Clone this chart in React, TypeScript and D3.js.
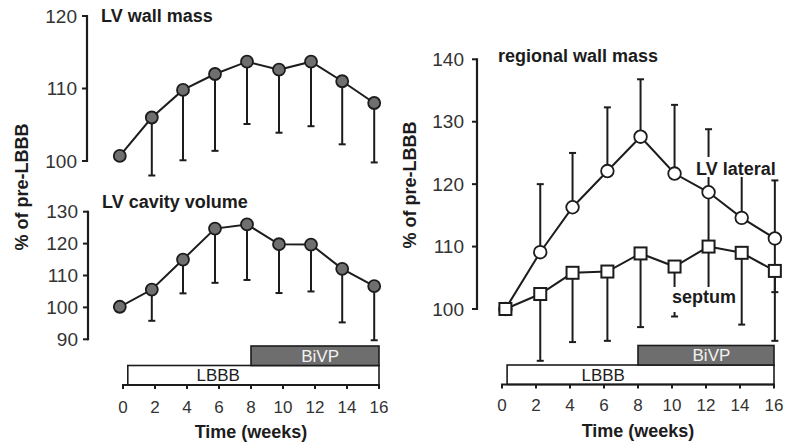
import React from "react";
import * as d3 from "d3";

// ---- data ----
const weekTicks = [0, 2, 4, 6, 8, 10, 12, 14, 16];
const leftWeeks = [-0.2, 1.8, 3.75, 5.75, 7.75, 9.75, 11.75, 13.7, 15.7];
const rightWeeks = [0.2, 2.25, 4.15, 6.2, 8.15, 10.15, 12.15, 14.1, 16.05];

const wallMass = [100.7, 106.0, 109.8, 112.0, 113.7, 112.6, 113.7, 111.0, 108.0];
const wallMassLow = [null, 98.0, 100.1, 101.4, 105.1, 103.9, 104.8, 102.3, 99.8];
const wallMassTicks = [100, 110, 120];

const cavity = [100.2, 105.6, 115.0, 124.7, 126.0, 119.8, 119.7, 112.1, 106.7];
const cavityLow = [null, 95.8, 104.4, 107.7, 108.6, 104.5, 105.0, 95.3, 89.7];
const cavityTicks = [90, 100, 110, 120, 130];

const lateral = [100, 109.1, 116.3, 122.1, 127.6, 121.7, 118.7, 114.6, 111.3];
const lateralHigh = [null, 120.0, 125.0, 132.3, 136.8, 132.7, 128.8, 123.5, 120.6];
const lateralLow = [null, null, null, null, null, null, 101.5, null, 102.7];
const septum = [100, 102.4, 105.8, 106.0, 108.9, 106.8, 110.0, 109.0, 106.1];
const septumLow = [null, 91.7, 94.7, 94.9, 97.1, 98.8, null, 97.5, 94.9];
const regionalTicks = [100, 110, 120, 130, 140];

const phaseNames = ["LBBB", "BiVP"];
const phaseStart = [0.3, 8];
const phaseEnd = [16, 16];

// ---- styles ----
const INK = "#1c1c1c";
const GRAYFILL = "#6f6f6f";
const FONT = "'Liberation Sans', Arial, Helvetica, sans-serif";

const xLeft = d3.scaleLinear().domain([0, 16]).range([123, 379]);
const xRight = d3.scaleLinear().domain([0, 16]).range([502, 774]);
const yWall = d3.scaleLinear().domain([100, 120]).range([161, 16]);
const yCav = d3.scaleLinear().domain([90, 130]).range([339.3, 211.7]);
const yReg = d3.scaleLinear().domain([100, 140]).range([309, 59.3]);

type Lin = d3.ScaleLinear<number, number>;

function YAxis({ y, x, ticks, gap }: { y: Lin; x: number; ticks: number[]; gap: number }) {
  const [d0, d1] = y.domain();
  return (
    <g>
      <line x1={x} x2={x} y1={y(d0) + 1} y2={y(d1) - 1} stroke={INK} strokeWidth={2.2} />
      {ticks.map((t) => (
        <g key={t}>
          <line x1={x - 5} x2={x} y1={y(t)} y2={y(t)} stroke={INK} strokeWidth={2} />
          <text x={x - gap} y={y(t) + 6.6} textAnchor="end" fontSize={19} fill="#333" fontFamily={FONT}>
            {t}
          </text>
        </g>
      ))}
    </g>
  );
}

function XAxis({ x, y, labelY, titleY }: { x: Lin; y: number; labelY: number; titleY: number }) {
  return (
    <g>
      <line x1={x(0) - 1} x2={x(16) + 1} y1={y} y2={y} stroke={INK} strokeWidth={2.2} />
      {weekTicks.map((t) => (
        <g key={t}>
          <line x1={x(t)} x2={x(t)} y1={y} y2={y + 4} stroke={INK} strokeWidth={2} />
          <text x={x(t)} y={labelY} textAnchor="middle" fontSize={17} fill="#333" fontFamily={FONT}>
            {t}
          </text>
        </g>
      ))}
      <text x={(x(0) + x(16)) / 2} y={titleY} textAnchor="middle" fontSize={18} fontWeight="bold" fill={INK} fontFamily={FONT}>
        Time (weeks)
      </text>
    </g>
  );
}

function Phases({ x, yBottom }: { x: Lin; yBottom: number }) {
  const h = 19.5;
  return (
    <g>
      {phaseNames.map((name, i) => {
        const top = yBottom - h * (i + 1);
        const x0 = x(phaseStart[i]);
        const x1 = x(phaseEnd[i]);
        const filled = i === 1;
        return (
          <g key={name}>
            <rect x={x0} y={top} width={x1 - x0} height={h} fill={filled ? "#6e6e6e" : "#fff"} stroke={INK} strokeWidth={1.6} />
            <text
              x={filled ? x0 + (x1 - x0) * 0.54 : x0 + (x1 - x0) * 0.36}
              y={top + h / 2 + 6}
              textAnchor="middle"
              fontSize={17}
              fill={filled ? "#f2f2f2" : INK}
              fontFamily={FONT}
            >
              {name}
            </text>
          </g>
        );
      })}
    </g>
  );
}

function ErrBars({ x, y, weeks, vals, ends }: { x: Lin; y: Lin; weeks: number[]; vals: number[]; ends: (number | null)[] }) {
  return (
    <g>
      {ends.map((e, i) =>
        e == null ? null : (
          <g key={i}>
            <line x1={x(weeks[i])} x2={x(weeks[i])} y1={y(vals[i])} y2={y(e)} stroke={INK} strokeWidth={2} />
            <line x1={x(weeks[i]) - 3.5} x2={x(weeks[i]) + 3.5} y1={y(e)} y2={y(e)} stroke={INK} strokeWidth={2} />
          </g>
        )
      )}
    </g>
  );
}

function Series({ x, y, weeks, vals }: { x: Lin; y: Lin; weeks: number[]; vals: number[] }) {
  const line = d3
    .line<number>()
    .x((_, i) => x(weeks[i]))
    .y((d) => y(d));
  return <path d={line(vals) || ""} fill="none" stroke={INK} strokeWidth={2} />;
}

function Circles({ x, y, weeks, vals, fill, r }: { x: Lin; y: Lin; weeks: number[]; vals: number[]; fill: string; r: number }) {
  return (
    <g>
      {vals.map((v, i) => (
        <circle key={i} cx={x(weeks[i])} cy={y(v)} r={r} fill={fill} stroke={INK} strokeWidth={1.8} />
      ))}
    </g>
  );
}

function Squares({ x, y, weeks, vals }: { x: Lin; y: Lin; weeks: number[]; vals: number[] }) {
  const s = 12;
  return (
    <g>
      {vals.map((v, i) => (
        <rect key={i} x={x(weeks[i]) - s / 2} y={y(v) - s / 2} width={s} height={s} fill="#fff" stroke={INK} strokeWidth={2} />
      ))}
    </g>
  );
}

function Title({ x, y, children }: { x: number; y: number; children: React.ReactNode }) {
  return (
    <text x={x} y={y} fontSize={18} fontWeight="bold" fill={INK} fontFamily={FONT}>
      {children}
    </text>
  );
}

function YLabel({ x, y }: { x: number; y: number }) {
  return (
    <text
      transform={`translate(${x},${y}) rotate(-90)`}
      textAnchor="middle"
      dominantBaseline="central"
      fontSize={18}
      fontWeight="bold"
      fill={INK}
      fontFamily={FONT}
    >
      % of pre-LBBB
    </text>
  );
}

export default function App() {
  // the LV lateral circle at week 0 is hidden under the septum square (both 100)
  const latWeeks = rightWeeks;
  return (
    <svg width={788} height={447} style={{ position: "absolute", left: 0, top: 0, background: "#fff" }}>
      <rect width={788} height={447} fill="#fff" />
      {/* left panel top */}
      <YAxis y={yWall} x={87} ticks={wallMassTicks} gap={10} />
      <Title x={101} y={22}>LV wall mass</Title>
      <Series x={xLeft} y={yWall} weeks={leftWeeks} vals={wallMass} />
      <ErrBars x={xLeft} y={yWall} weeks={leftWeeks} vals={wallMass} ends={wallMassLow} />
      <Circles x={xLeft} y={yWall} weeks={leftWeeks} vals={wallMass} fill={GRAYFILL} r={6} />

      {/* left panel bottom */}
      <YAxis y={yCav} x={88} ticks={cavityTicks} gap={10} />
      <Title x={102} y={208}>LV cavity volume</Title>
      <Series x={xLeft} y={yCav} weeks={leftWeeks} vals={cavity} />
      <ErrBars x={xLeft} y={yCav} weeks={leftWeeks} vals={cavity} ends={cavityLow} />
      <Circles x={xLeft} y={yCav} weeks={leftWeeks} vals={cavity} fill={GRAYFILL} r={6} />

      <Phases x={xLeft} yBottom={385} />
      <XAxis x={xLeft} y={385} labelY={413} titleY={438} />
      <YLabel x={22} y={187} />

      {/* right panel */}
      <YAxis y={yReg} x={477} ticks={regionalTicks} gap={13} />
      <Title x={498} y={62}>regional wall mass</Title>
      <Series x={xRight} y={yReg} weeks={latWeeks} vals={lateral} />
      <Series x={xRight} y={yReg} weeks={rightWeeks} vals={septum} />
      <ErrBars x={xRight} y={yReg} weeks={latWeeks} vals={lateral} ends={lateralHigh} />
      <ErrBars x={xRight} y={yReg} weeks={latWeeks} vals={lateral} ends={lateralLow} />
      <ErrBars x={xRight} y={yReg} weeks={rightWeeks} vals={septum} ends={septumLow} />
      <Circles x={xRight} y={yReg} weeks={latWeeks} vals={lateral} fill="#fff" r={6.3} />
      <Squares x={xRight} y={yReg} weeks={rightWeeks} vals={septum} />

      <rect x={694} y={157} width={87} height={20} fill="#fff" />
      <text x={696} y={175} fontSize={18} fontWeight="bold" fill={INK} fontFamily={FONT}>LV lateral</text>
      <rect x={669} y={287} width={70} height={25} fill="#fff" />
      <text x={672} y={303} fontSize={18} fontWeight="bold" fill={INK} fontFamily={FONT}>septum</text>

      <Phases x={xRight} yBottom={384.5} />
      <XAxis x={xRight} y={384.5} labelY={411} titleY={437} />
      <YLabel x={410} y={185} />
    </svg>
  );
}
